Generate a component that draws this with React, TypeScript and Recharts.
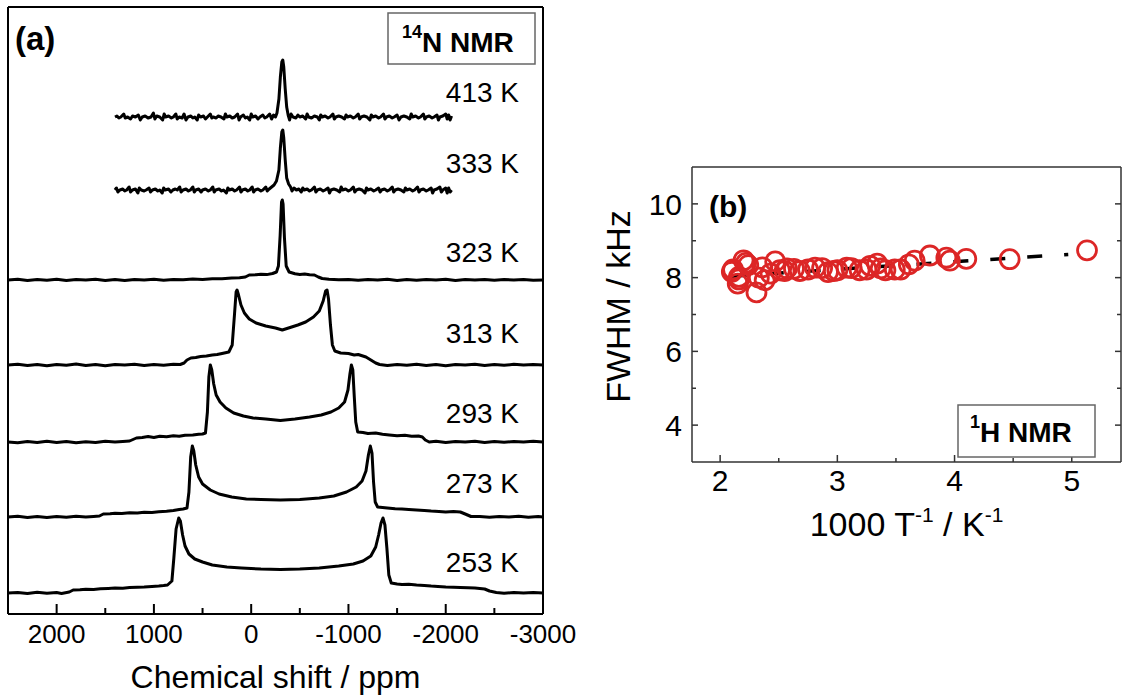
import React from "react";
import { ComposedChart, Line, Scatter, XAxis, YAxis, Label } from "recharts";

const FONT = "'Liberation Sans', Arial, Helvetica, sans-serif";

// ---------- (a) 14N NMR spectra, [ppm, intensity] ----------
const TEMPS_A = ["413 K", "333 K", "323 K", "313 K", "293 K", "273 K", "253 K"];
// vertical stacking offset of each trace (y units of the hidden axis)
const OFFSETS_A = [497, 424, 334, 249, 172, 97, 21];

const SPEC_413 = [
  [1400, 0], [1380, 1], [1360, -1], [1340, 0], [1310, 3], [1295, -1], [1270, 0], [1240, -2], [1220, 1],
  [1190, 0], [1160, 2], [1140, -3], [1120, 0], [1090, 1], [1060, -1], [1030, 0], [1005, 4], [990, -2],
  [970, 1], [940, 0], [910, -3], [895, 3], [880, 0], [850, 1], [820, -1], [800, 0], [775, 3], [760, -2],
  [740, 0], [710, -1], [690, 3], [670, -3], [650, 0], [620, 1], [600, -1], [580, 0], [555, -3], [540, 2],
  [520, 0], [490, 1], [470, -2], [450, 0], [420, 3], [405, -1], [390, 0], [360, -1], [340, 1], [310, 0],
  [280, -2], [265, 3], [250, 0], [220, 1], [195, -1], [170, 0], [140, 3], [125, -3], [110, 0], [80, 2],
  [60, -1], [40, 0], [15, -3], [0, 3], [-15, 0], [-45, 1], [-70, -2], [-90, 0], [-120, 2], [-140, -1],
  [-160, 0], [-190, 3], [-210, -2], [-230, 2], [-250, 0], [-265, 4], [-285, 18], [-300, 40], [-315, 55],
  [-325, 57], [-335, 50], [-350, 28], [-365, 10], [-380, 2], [-395, -3], [-410, 3], [-430, 0], [-460, -1],
  [-480, 2], [-500, 0], [-530, 1], [-560, -2], [-575, 3], [-590, 0], [-620, -1], [-650, 1], [-680, 0],
  [-700, -3], [-715, 2], [-730, 0], [-760, 1], [-790, -1], [-810, 0], [-840, 3], [-855, -2], [-870, 0],
  [-900, 1], [-930, 0], [-960, -2], [-975, 2], [-990, 0], [-1020, 1], [-1050, -1], [-1070, 0], [-1100, 3],
  [-1115, -2], [-1130, 0], [-1160, 1], [-1190, 0], [-1220, -3], [-1235, 2], [-1250, 0], [-1280, 1],
  [-1310, -1], [-1330, 0], [-1360, 3], [-1375, -2], [-1390, 0], [-1420, 1], [-1450, -1], [-1470, 0],
  [-1500, 2], [-1520, -3], [-1540, 0], [-1570, 1], [-1600, 0], [-1630, -2], [-1645, 3], [-1660, 0],
  [-1690, 1], [-1720, -1], [-1740, 0], [-1770, 3], [-1785, -2], [-1800, 0], [-1830, 1], [-1860, -1],
  [-1880, 0], [-1910, 2], [-1925, -3], [-1940, 0], [-1970, 1], [-2000, 3], [-2015, -2], [-2030, 2],
  [-2045, -3], [-2060, 1],
];

const SPEC_333 = [
  [1400, 0], [1385, 2], [1370, -2], [1350, 0], [1320, 1], [1300, -1], [1280, 0], [1255, 3], [1240, -2],
  [1220, 0], [1190, 1], [1165, -3], [1150, 2], [1130, 0], [1100, -1], [1080, 0], [1050, 2], [1035, -2],
  [1015, 0], [985, 1], [960, -1], [940, 0], [915, -3], [900, 2], [885, 0], [850, 1], [825, -2], [805, 0],
  [780, 1], [760, 0], [735, 3], [720, -2], [700, 0], [670, 1], [645, -1], [625, 0], [600, 3], [585, -2],
  [570, 0], [540, 1], [515, -2], [500, 0], [470, 1], [440, -1], [420, 0], [395, 3], [380, -2], [365, 0],
  [330, 1], [305, -1], [285, 0], [255, -3], [240, 2], [225, 0], [195, 1], [170, -1], [150, 0], [120, 3],
  [105, -2], [90, 0], [60, 1], [35, -1], [15, 0], [-10, 3], [-25, -2], [-40, 0], [-70, 1], [-100, -1],
  [-120, 0], [-150, 3], [-165, -1], [-185, 1], [-210, 3], [-235, 5], [-260, 9], [-285, 20], [-300, 42],
  [-315, 58], [-325, 60], [-335, 52], [-350, 30], [-365, 12], [-385, 6], [-405, 3], [-420, -1], [-440, 2],
  [-465, 0], [-490, 1], [-515, -2], [-530, 2], [-545, 0], [-575, 1], [-600, -1], [-620, 0], [-650, 3],
  [-665, -2], [-680, 0], [-710, 1], [-740, -1], [-760, 0], [-790, 2], [-805, -3], [-820, 0], [-850, 1],
  [-880, 0], [-910, -2], [-925, 3], [-940, 0], [-970, 1], [-1000, -1], [-1020, 0], [-1050, 3],
  [-1065, -2], [-1080, 0], [-1110, 1], [-1140, 0], [-1170, -3], [-1185, 2], [-1200, 0], [-1230, 1],
  [-1260, -1], [-1280, 0], [-1310, 2], [-1325, -2], [-1340, 0], [-1370, 1], [-1400, -1], [-1420, 0],
  [-1450, 3], [-1465, -2], [-1480, 0], [-1510, 1], [-1540, 0], [-1570, -2], [-1585, 2], [-1600, 0],
  [-1630, 1], [-1660, -1], [-1680, 0], [-1710, 3], [-1725, -2], [-1740, 0], [-1770, 1], [-1800, -1],
  [-1820, 0], [-1850, 2], [-1865, -3], [-1880, 0], [-1910, 1], [-1940, 3], [-1955, -2], [-1970, 0],
  [-2000, 2], [-2015, -3], [-2030, 2], [-2045, -2], [-2060, 0],
];

const SPEC_323 = [
  [2500, 0], [2400, 0.8], [2300, -0.5], [2200, 0.6], [2100, -0.3], [2000, 0.7], [1900, -0.6], [1800, 0.4],
  [1700, 0], [1600, 0.8], [1500, -0.4], [1400, 0.5], [1300, -0.5], [1200, 0.6], [1100, 0], [1000, 0.7],
  [900, -0.3], [800, 0.6], [700, 0.2], [600, 0.9], [500, 0.6], [400, 1.3], [300, 1.2], [200, 2], [120, 2.2],
  [60, 3], [20, 5], [-50, 5.2], [-100, 5.8], [-160, 5.4], [-220, 6.5], [-260, 8], [-280, 14], [-298, 45],
  [-312, 78], [-320, 80], [-328, 76], [-342, 42], [-360, 14], [-390, 8], [-450, 6.2], [-500, 5.6],
  [-550, 6], [-600, 5.2], [-650, 5], [-690, 3], [-730, 1.5], [-800, 0.8], [-900, 0.2], [-1000, 0.6],
  [-1100, -0.3], [-1200, 0.5], [-1300, 0], [-1400, 0.7], [-1500, -0.4], [-1600, 0.5], [-1700, -0.2],
  [-1800, 0.6], [-1900, 0], [-2000, 0.7], [-2100, -0.4], [-2200, 0.4], [-2300, 0], [-2400, 0.6],
  [-2500, -0.3], [-2600, 0.5], [-2700, 0], [-2800, 0.6], [-2900, -0.3], [-3000, 0],
];

const SPEC_313 = [
  [2500, 0], [2400, 0.8], [2300, -0.6], [2200, 0.5], [2100, -0.8], [2000, 0.6], [1900, -0.3], [1800, 0.9],
  [1700, -0.5], [1600, 0.4], [1500, -0.8], [1400, 0.6], [1300, 0], [1200, 0.8], [1100, -0.5], [1000, 0.4],
  [900, -0.2], [800, 0.7], [730, 0.5], [690, 2], [660, 5], [620, 7], [570, 7.5], [520, 8.5], [460, 9],
  [400, 10], [350, 10.5], [300, 11.5], [230, 13], [195, 20], [172, 50], [155, 73], [145, 75], [130, 70],
  [105, 60], [70, 52], [20, 46], [-50, 42], [-150, 39], [-250, 37], [-320, 35], [-400, 37.5], [-480, 40],
  [-560, 43], [-640, 48], [-700, 54], [-740, 64], [-765, 74], [-780, 75], [-795, 66], [-815, 40], [-835, 20],
  [-860, 14], [-920, 12], [-1000, 11.5], [-1060, 10], [-1100, 10.5], [-1180, 8], [-1230, 5], [-1280, 2],
  [-1320, 0.5], [-1400, -0.5], [-1500, 0.6], [-1600, -0.3], [-1700, 0.8], [-1800, -0.5], [-1900, 0.4],
  [-2000, -0.7], [-2100, 0.5], [-2200, 0], [-2300, 0.8], [-2400, -0.5], [-2500, 0.4], [-2600, -0.3],
  [-2700, 0.7], [-2800, 0], [-2900, 0.6], [-3000, 0],
];

const SPEC_293 = [
  [2500, 0], [2400, -0.8], [2300, 0.5], [2200, -0.6], [2100, 0.7], [2000, -0.4], [1900, 0.6], [1800, -0.8],
  [1700, 0.3], [1600, -0.5], [1500, 0.8], [1400, 0], [1320, 0.6], [1250, 1], [1180, 4], [1120, 4.5],
  [1060, 5.5], [1000, 4.5], [940, 5.8], [870, 5.2], [800, 6.2], [740, 5.8], [680, 6.8], [600, 7],
  [540, 7.8], [500, 8], [470, 9], [450, 30], [435, 65], [420, 77], [405, 72], [385, 58], [360, 47],
  [320, 40], [260, 34], [180, 29], [80, 26], [-20, 24], [-150, 23], [-300, 21.5], [-450, 23], [-600, 25],
  [-720, 27], [-820, 30], [-900, 34], [-960, 40], [-995, 52], [-1015, 68], [-1030, 77], [-1045, 72],
  [-1060, 45], [-1075, 20], [-1095, 10], [-1150, 9.5], [-1200, 8.5], [-1280, 9], [-1350, 7.8], [-1420, 7],
  [-1500, 6.2], [-1580, 6.8], [-1650, 5.8], [-1720, 6], [-1760, 5], [-1790, 2], [-1830, 0], [-1900, 0.7],
  [-2000, -0.5], [-2100, 0.6], [-2200, 0], [-2300, 0.8], [-2400, -0.5], [-2500, 0.5], [-2600, -0.3],
  [-2700, 0.6], [-2800, 0], [-2900, 0.7], [-3000, 0],
];

const SPEC_273 = [
  [2500, 0], [2400, 0.7], [2300, -0.4], [2200, 0.6], [2100, -0.6], [2000, 0.5], [1900, -0.3], [1800, 0.8],
  [1700, 0], [1620, 0.6], [1560, 1], [1520, 3], [1450, 3.2], [1400, 3.8], [1330, 3.4], [1250, 4.2],
  [1170, 4], [1100, 4.8], [1020, 4.6], [950, 5.2], [870, 5.8], [800, 6.5], [740, 7.5], [700, 8], [660, 9],
  [640, 25], [622, 60], [605, 71], [590, 66], [570, 52], [540, 40], [500, 33], [420, 27], [330, 23],
  [200, 20], [50, 18], [-100, 17.5], [-300, 17], [-500, 17.5], [-700, 19], [-850, 21], [-980, 25],
  [-1080, 30], [-1140, 36], [-1180, 46], [-1205, 62], [-1225, 71], [-1242, 64], [-1258, 35], [-1275, 15],
  [-1300, 10], [-1350, 9.5], [-1400, 9], [-1480, 8.2], [-1550, 8], [-1620, 7.5], [-1700, 7], [-1780, 6.6],
  [-1850, 6], [-1930, 5.6], [-2000, 5], [-2080, 5.4], [-2150, 5], [-2200, 3], [-2260, 0.5], [-2350, 0.6],
  [-2450, -0.3], [-2550, 0.6], [-2650, 0], [-2750, 0.7], [-2850, -0.3], [-2950, 0.5], [-3000, 0],
];

const SPEC_253 = [
  [2500, 0], [2400, 0.6], [2300, -0.5], [2200, 0.7], [2100, -0.2], [2000, 0.5], [1950, -0.4], [1870, 1],
  [1830, 3], [1760, 3.2], [1700, 3.8], [1620, 3.6], [1550, 4.2], [1470, 4.6], [1400, 5], [1320, 4.8],
  [1250, 5.4], [1170, 5.8], [1100, 6], [1020, 6.6], [950, 7], [900, 7.4], [860, 8], [815, 12], [795, 35],
  [772, 64], [745, 75], [728, 72], [705, 58], [680, 47], [640, 39], [580, 34], [500, 31], [400, 28],
  [250, 26], [100, 25], [-100, 24], [-300, 23.5], [-500, 24], [-700, 25], [-900, 27], [-1050, 29],
  [-1150, 32], [-1230, 37], [-1280, 46], [-1310, 58], [-1335, 70], [-1355, 75], [-1375, 68], [-1395, 45],
  [-1415, 18], [-1440, 10], [-1500, 9], [-1550, 8.5], [-1620, 8.7], [-1700, 8], [-1780, 7.6], [-1850, 7],
  [-1920, 6.6], [-2000, 6], [-2080, 5.8], [-2150, 5.5], [-2230, 5.2], [-2300, 5], [-2400, 4], [-2450, 2],
  [-2520, 0.5], [-2600, -0.3], [-2700, 0.6], [-2800, 0], [-2900, 0.5], [-3000, 0],
];

const SPECTRA = [SPEC_413, SPEC_333, SPEC_323, SPEC_313, SPEC_293, SPEC_273, SPEC_253];

const PPM_TICKS = [2000, 1500, 1000, 500, 0, -500, -1000, -1500, -2000, -2500, -3000];

// ---------- (b) 1H NMR linewidth ----------
const INV_T = [
  2.1, 2.11, 2.15, 2.16, 2.16, 2.2, 2.22, 2.24, 2.31, 2.33, 2.36, 2.38, 2.43, 2.47, 2.51, 2.55, 2.57,
  2.63, 2.68, 2.75, 2.81, 2.87, 2.92, 2.97, 3.0, 3.08, 3.12, 3.19, 3.25, 3.28, 3.34, 3.37, 3.41, 3.49,
  3.54, 3.61, 3.66, 3.79, 3.93, 3.96, 4.1, 4.47, 5.13,
];
const FWHM = [
  8.16, 8.22, 7.84, 7.95, 8.02, 8.47, 8.4, 8.34, 7.6, 8.0, 8.28, 7.93, 8.11, 8.44, 8.2, 8.18, 8.25,
  8.24, 8.18, 8.22, 8.27, 8.26, 8.15, 8.18, 8.2, 8.27, 8.26, 8.2, 8.22, 8.32, 8.38, 8.25, 8.2, 8.22,
  8.22, 8.36, 8.46, 8.6, 8.54, 8.46, 8.51, 8.5, 8.74,
];
const FIT_X = [2.1, 4.97];
const FIT_Y = [8.04, 8.63];

const INV_T_TICKS = [2, 2.5, 3, 3.5, 4, 4.5, 5];
const FWHM_TICKS = [4, 5, 6, 7, 8, 9, 10];

// ---------- helpers ----------
const toPoints = (spec: number[][], offset: number) => spec.map(([x, y]) => ({ x, y: y + offset }));
const scatterData = INV_T.map((x, i) => ({ x, y: FWHM[i] }));
const fitData = FIT_X.map((x, i) => ({ x, y: FIT_Y[i] }));

type Side = "bottom" | "top" | "left" | "right";

// inward tick marks (major/minor) plus optional labels
function makeTick(
  side: Side,
  isMajor: (v: number) => boolean,
  majorLen: number,
  minorLen: number,
  label: boolean,
  fontSize: number,
  gap: number,
  color: string,
  width: number
) {
  return (props: any) => {
    const { x, y, payload } = props;
    const v = payload.value as number;
    const major = isMajor(v);
    const len = major ? majorLen : minorLen;
    let line = null;
    let text = null;
    if (side === "bottom") {
      line = <line x1={x} y1={y} x2={x} y2={y - len} stroke={color} strokeWidth={width} />;
      if (label && major)
        text = (
          <text x={x} y={y + gap} textAnchor="middle" fontSize={fontSize} fontFamily={FONT} fill="#000">
            {String(v)}
          </text>
        );
    } else if (side === "top") {
      line = <line x1={x} y1={y} x2={x} y2={y + len} stroke={color} strokeWidth={width} />;
    } else if (side === "left") {
      line = <line x1={x} y1={y} x2={x + len} y2={y} stroke={color} strokeWidth={width} />;
      if (label && major)
        text = (
          <text x={x - gap} y={y + fontSize * 0.36} textAnchor="end" fontSize={fontSize} fontFamily={FONT} fill="#000">
            {String(v)}
          </text>
        );
    } else {
      line = <line x1={x} y1={y} x2={x - len} y2={y} stroke={color} strokeWidth={width} />;
    }
    return (
      <g>
        {line}
        {text}
      </g>
    );
  };
}

const ppmTick = makeTick("bottom", (v) => v % 1000 === 0, 10, 6, true, 26, 29, "#000", 2);

const invBottom = makeTick("bottom", (v) => Number.isInteger(v), 7, 4, true, 30, 29, "#333", 1.5);
const invTop = makeTick("top", (v) => Number.isInteger(v), 7, 4, false, 0, 0, "#333", 1.5);
const fwhmLeft = makeTick("left", (v) => v % 2 === 0, 6, 4, true, 30, 10, "#333", 1.5);
const fwhmRight = makeTick("right", (v) => v % 2 === 0, 6, 4, false, 0, 0, "#333", 1.5);

const PpmTitle = (props: any) => {
  const vb = props.viewBox;
  return (
    <text x={vb.x + vb.width / 2} y={vb.y + 74} textAnchor="middle" fontSize={32} fontFamily={FONT} fill="#000">
      Chemical shift / ppm
    </text>
  );
};

const InvTTitle = (props: any) => {
  const vb = props.viewBox;
  return (
    <text x={vb.x + vb.width / 2} y={vb.y + 74} textAnchor="middle" fontSize={34} fontFamily={FONT} fill="#000">
      1000 T
      <tspan fontSize={21} dy={-14}>-1</tspan>
      <tspan dy={14}> / K</tspan>
      <tspan fontSize={21} dy={-14}>-1</tspan>
    </text>
  );
};

const FwhmTitle = (props: any) => {
  const vb = props.viewBox;
  const cx = vb.x + 60;
  const cy = vb.y + vb.height / 2 - 8;
  return (
    <text
      transform={`translate(${cx},${cy}) rotate(-90)`}
      textAnchor="middle"
      fontSize={34}
      fontFamily={FONT}
      fill="#000"
    >
      FWHM / kHz
    </text>
  );
};

const TEMP_LABEL_Y = [102, 173, 262, 343, 423, 493, 572];

export default function App() {
  const frameA = { stroke: "#000", strokeWidth: 2 };
  const frameB = { stroke: "#333", strokeWidth: 1.5 };
  return (
    <div style={{ position: "absolute", left: 0, top: 0, width: 1124, height: 700, background: "#fff", fontFamily: FONT }}>
      {/* panel (a) */}
      <div style={{ position: "absolute", left: 0, top: 0 }}>
        <ComposedChart width={600} height={700} margin={{ top: 6, right: 56, bottom: 0, left: 7 }}>
          <XAxis
            xAxisId="b"
            dataKey="x"
            type="number"
            domain={[-3000, 2500]}
            reversed
            allowDataOverflow
            ticks={PPM_TICKS}
            interval={0}
            tickSize={0}
            tickMargin={0}
            tickLine={false}
            axisLine={frameA}
            tick={ppmTick}
            height={86}
          >
            <Label content={PpmTitle} />
          </XAxis>
          <XAxis
            xAxisId="t"
            orientation="top"
            type="number"
            domain={[-3000, 2500]}
            reversed
            allowDataOverflow
            tick={false}
            tickLine={false}
            axisLine={frameA}
            height={1}
          />
          <YAxis yAxisId="l" type="number" domain={[0, 607]} allowDataOverflow tick={false} tickLine={false} axisLine={frameA} width={1} />
          <YAxis
            yAxisId="r"
            orientation="right"
            type="number"
            domain={[0, 607]}
            allowDataOverflow
            tick={false}
            tickLine={false}
            axisLine={frameA}
            width={1}
          />
          {SPECTRA.map((s, i) => (
            <Line
              key={TEMPS_A[i]}
              name={TEMPS_A[i]}
              xAxisId="b"
              yAxisId="l"
              data={toPoints(s, OFFSETS_A[i])}
              dataKey="y"
              type="linear"
              stroke="#000"
              strokeWidth={3}
              strokeLinejoin="round"
              dot={false}
              activeDot={false}
              isAnimationActive={false}
            />
          ))}
        </ComposedChart>
      </div>

      {/* panel (b) */}
      <div style={{ position: "absolute", left: 570, top: 0 }}>
        <ComposedChart width={554} height={560} margin={{ top: 166, right: 2, bottom: 0, left: 0 }}>
          <XAxis
            xAxisId="b"
            dataKey="x"
            type="number"
            domain={[1.76, 5.42]}
            allowDataOverflow
            ticks={INV_T_TICKS}
            interval={0}
            tickSize={0}
            tickMargin={0}
            tickLine={false}
            axisLine={frameB}
            tick={invBottom}
            height={98}
          >
            <Label content={InvTTitle} />
          </XAxis>
          <XAxis
            xAxisId="t"
            orientation="top"
            type="number"
            domain={[1.76, 5.42]}
            allowDataOverflow
            ticks={INV_T_TICKS}
            interval={0}
            tickSize={0}
            tickMargin={0}
            tickLine={false}
            axisLine={frameB}
            tick={invTop}
            height={1}
          />
          <YAxis
            yAxisId="l"
            dataKey="y"
            type="number"
            domain={[3, 11]}
            allowDataOverflow
            ticks={FWHM_TICKS}
            interval={0}
            tickSize={0}
            tickMargin={0}
            tickLine={false}
            axisLine={frameB}
            tick={fwhmLeft}
            width={122}
          >
            <Label content={FwhmTitle} />
          </YAxis>
          <YAxis
            yAxisId="r"
            orientation="right"
            type="number"
            domain={[3, 11]}
            allowDataOverflow
            ticks={FWHM_TICKS}
            interval={0}
            tickSize={0}
            tickMargin={0}
            tickLine={false}
            axisLine={frameB}
            tick={fwhmRight}
            width={1}
          />
          <Line
            xAxisId="b"
            yAxisId="l"
            data={fitData}
            dataKey="y"
            type="linear"
            stroke="#000"
            strokeWidth={3.5}
            strokeDasharray="15 22"
            dot={false}
            activeDot={false}
            isAnimationActive={false}
          />
          <Scatter
            xAxisId="b"
            yAxisId="l"
            data={scatterData}
            dataKey="y"
            isAnimationActive={false}
            shape={(p: any) => (
              <circle cx={p.cx} cy={p.cy} r={9.5} fill="none" stroke="#dc2626" strokeWidth={2.8} />
            )}
          />
        </ComposedChart>
      </div>

      {/* annotations */}
      <svg
        width={1124}
        height={700}
        style={{ position: "absolute", left: 0, top: 0, pointerEvents: "none" }}
        fontFamily={FONT}
      >
        <text x={15} y={50} fontSize={33} fontWeight="bold" fill="#000">
          (a)
        </text>
        <rect x={388} y={13} width={147} height={51} fill="#fff" stroke="#666" strokeWidth={1.5} />
        <text x={402} y={52} fontSize={28} fontWeight="bold" fill="#000">
          <tspan fontSize={18} dy={-14}>14</tspan>
          <tspan dy={14}>N NMR</tspan>
        </text>
        {TEMPS_A.map((t, i) => (
          <text key={t} x={519} y={TEMP_LABEL_Y[i]} textAnchor="end" fontSize={28} fill="#000">
            {t}
          </text>
        ))}
        <text x={709} y={217} fontSize={30} fontWeight="bold" fill="#000">
          (b)
        </text>
        <rect x={958} y={405} width={137} height={52} fill="#fff" stroke="#666" strokeWidth={1.5} />
        <text x={970} y={442} fontSize={28} fontWeight="bold" fill="#000">
          <tspan fontSize={18} dy={-14}>1</tspan>
          <tspan dy={14}>H NMR</tspan>
        </text>
      </svg>
    </div>
  );
}
